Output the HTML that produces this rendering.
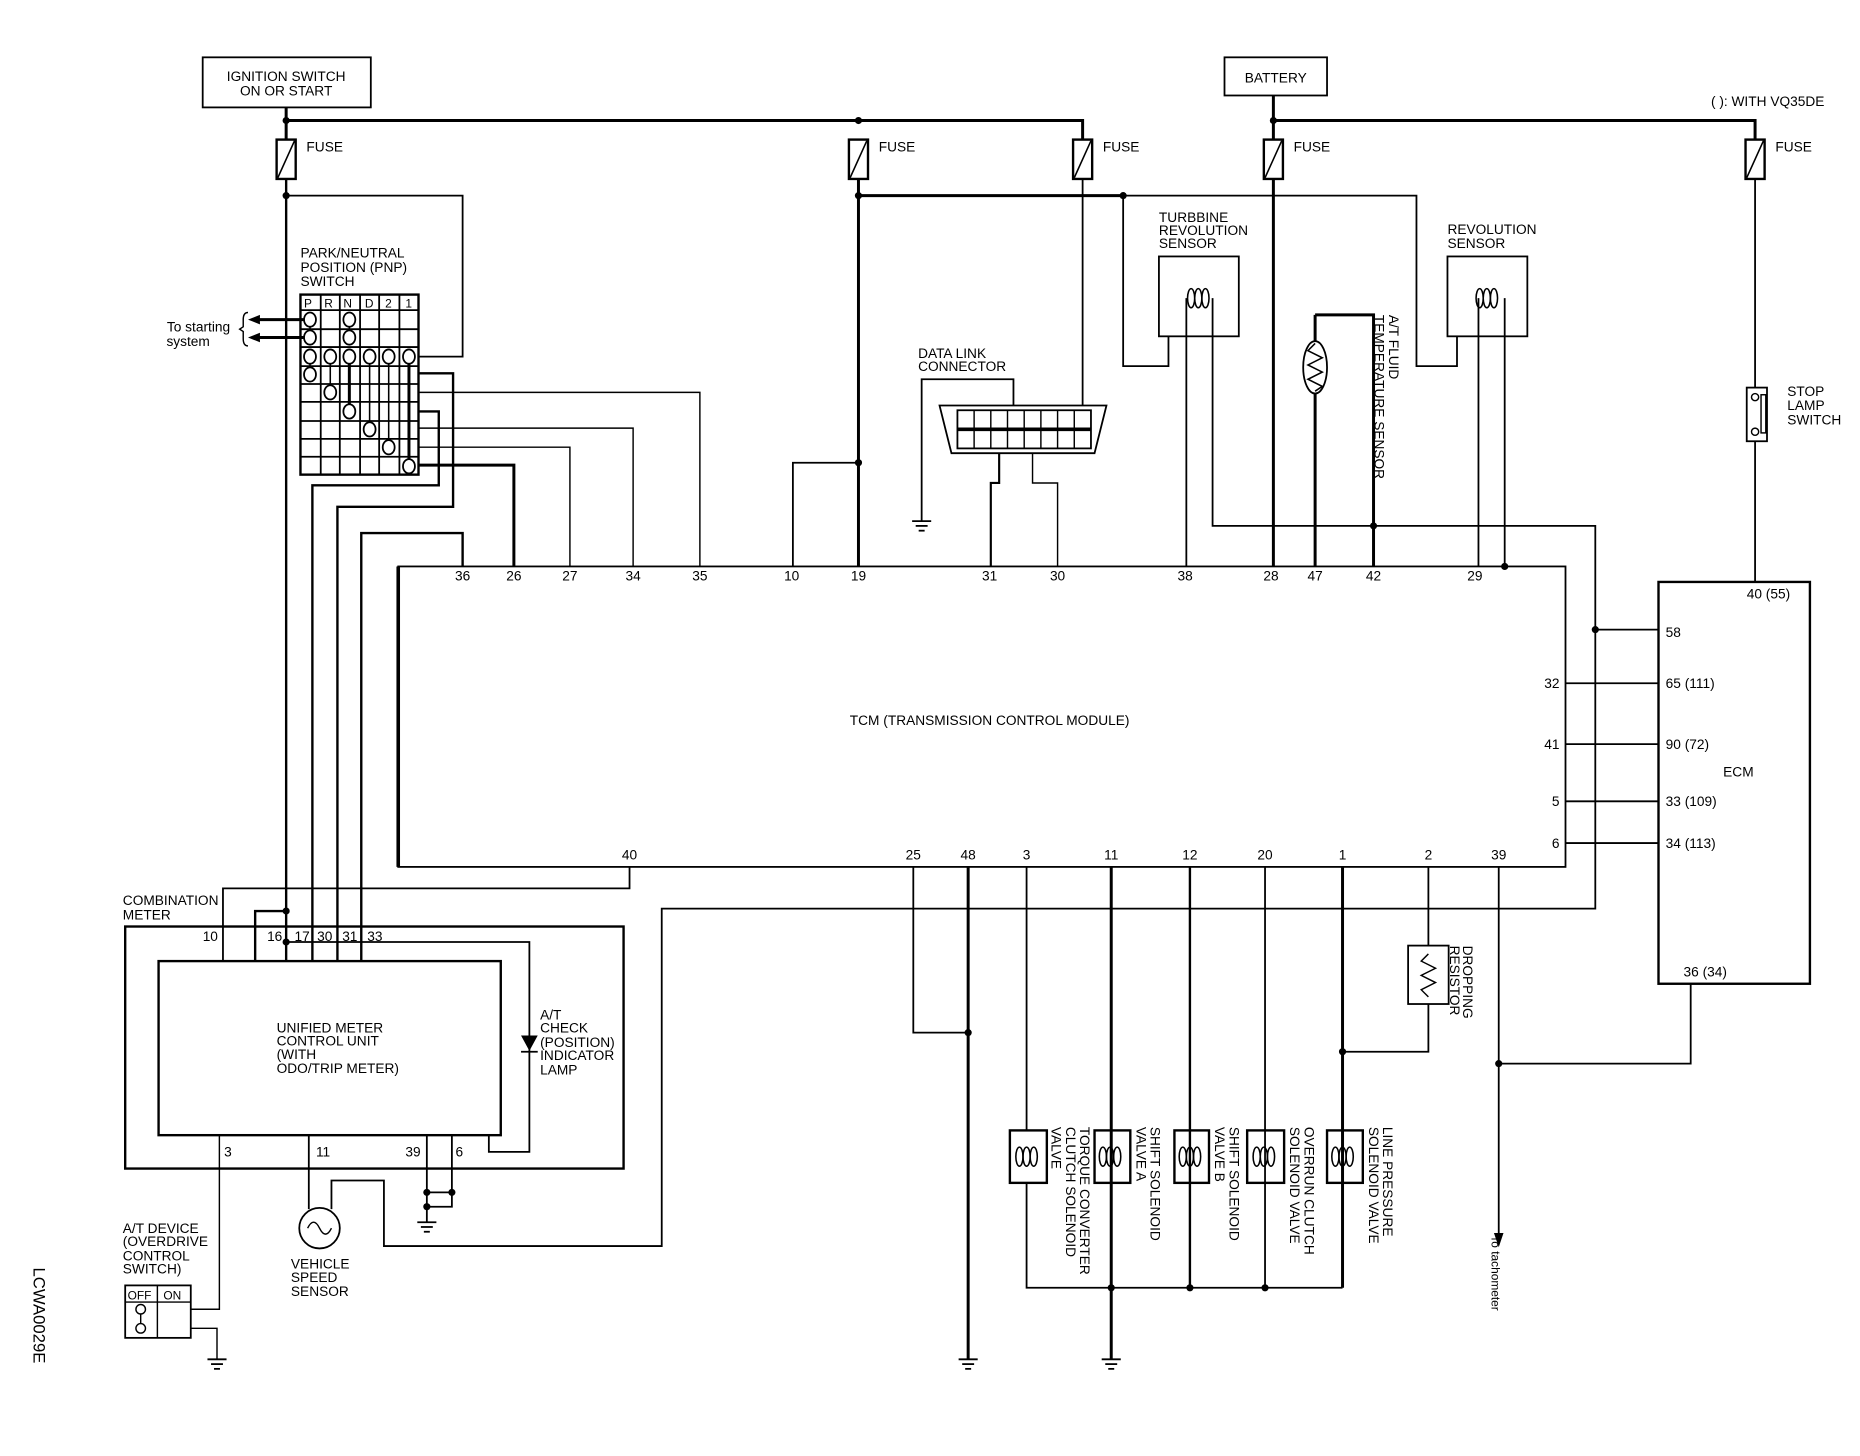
<!DOCTYPE html>
<html><head><meta charset="utf-8"><style>
html,body{margin:0;padding:0;background:#fff}
svg{display:block}
text{font-family:"Liberation Sans",Arial,sans-serif;font-size:11.5px;fill:#000}
</style></head><body>
<svg width="1860" height="1456" viewBox="0 0 1560 1221" xmlns="http://www.w3.org/2000/svg">
<defs>
<g id="fuse"><rect x="-8" y="0" width="16" height="33" fill="#fff" stroke="#000" stroke-width="2"/><line x1="-7" y1="32" x2="7" y2="1" stroke="#000" stroke-width="1.3"/></g>
<g id="gnd" stroke="#000" stroke-width="1.5"><line x1="-8" y1="0" x2="8" y2="0"/><line x1="-5" y1="4" x2="5" y2="4"/><line x1="-2.5" y1="8" x2="2.5" y2="8"/></g>
<g id="coil" fill="none" stroke="#000" stroke-width="1.3"><ellipse cx="-5" cy="0" rx="3" ry="8"/><ellipse cx="1" cy="0" rx="3" ry="8"/><ellipse cx="7" cy="0" rx="3" ry="8"/></g>
</defs>
<g fill="none" stroke="#000" stroke-width="1.2">
<rect x="170" y="48" width="141" height="42" stroke-width="1.5"/>
<rect x="1027" y="48" width="86" height="32" stroke-width="1.5"/>
<path d="M240 90V117M240 101H908V117" stroke-width="2.5"/>
<path d="M1068 80V117M1068 101H1472V117" stroke-width="2.5"/>
<path d="M240 150V806" stroke-width="2"/>
<path d="M240 164H388V299H351" stroke-width="1.5"/>
<path d="M720 150V475" stroke-width="2.5"/>
<path d="M720 164H942" stroke-width="2.5"/>
<path d="M942 164H1188V307H1222V282" stroke-width="1.5"/>
<path d="M942 164V307H980V282" stroke-width="1.5"/>
<path d="M720 388H665V475" stroke-width="1.5"/>
<path d="M908 150V340" stroke-width="1.5"/>
<path d="M773 437V318H850V340" stroke-width="1.5"/>
<polygon points="788,340 928,340 918,380 798,380" stroke-width="1.5"/>
<rect x="803" y="344" width="112" height="32" stroke-width="1.5"/>
<line x1="803" y1="360" x2="915" y2="360" stroke-width="3"/>
<path d="M817 344V376M831 344V376M845 344V376M859 344V376M873 344V376M887 344V376M901 344V376"/>
<path d="M838 380V405H831V475" stroke-width="1.8"/>
<path d="M866 380V405H887V475" stroke-width="1.2"/>
<rect x="972" y="215" width="67" height="67" stroke-width="1.5"/>
<path d="M995 250V475" stroke-width="1.5"/>
<path d="M1017 250V441H1338V762H555V1045H322V990H278V1014" stroke-width="1.5"/>
<rect x="1214" y="215" width="67" height="67" stroke-width="1.5"/>
<path d="M1240 250V475M1262 250V475" stroke-width="1.5"/>
<path d="M1103 264V475M1103 264H1152V475" stroke-width="2.5"/>
<ellipse cx="1103" cy="308" rx="10" ry="22" fill="#fff" stroke-width="1.5"/>
<path d="M1103 288L1097 294L1109 300L1097 306L1109 312L1097 318L1109 324L1103 328" stroke-width="1.3"/>
<path d="M1068 150V475" stroke-width="2.5"/>
<path d="M1472 150V325M1472 370V488" stroke-width="1.5"/>
<rect x="1465" y="325" width="17" height="45" stroke-width="1.5"/>
<circle cx="1472" cy="333" r="3"/><circle cx="1472" cy="362" r="3"/>
<rect x="1477" y="331" width="4" height="32"/>
<rect x="1391" y="488" width="127" height="337" stroke-width="2"/>
<rect x="334" y="475" width="979" height="252" stroke-width="1.5"/>
<path d="M334 475V727" stroke-width="3"/>
<path d="M1313 573H1391M1313 624H1391M1313 672H1391M1313 707H1391M1338 528H1391" stroke-width="1.5"/>
<rect x="252" y="247" width="99" height="151" stroke-width="2"/>
<path d="M269 247V398M285 247V398M302 247V398M318 247V398M335 247V398" stroke-width="1.5"/>
<path d="M252 260H351M252 276H351M252 291H351M252 307H351M252 322H351M252 337H351M252 353H351M252 368H351M252 383H351" stroke-width="1.5"/>
<path d="M260 268V283M293 268V283M260 299V314M277 299V329M310 299V360M326 299V375" stroke-width="1.3"/>
<path d="M293 299V345M343 299V391" stroke-width="2.5"/>
<g fill="#fff" stroke-width="1.5">
<ellipse cx="260" cy="268" rx="5" ry="6"/><ellipse cx="293" cy="268" rx="5" ry="6"/>
<ellipse cx="260" cy="283" rx="5" ry="6"/><ellipse cx="293" cy="283" rx="5" ry="6"/>
<ellipse cx="260" cy="299" rx="5" ry="6"/><ellipse cx="277" cy="299" rx="5" ry="6"/><ellipse cx="293" cy="299" rx="5" ry="6"/><ellipse cx="310" cy="299" rx="5" ry="6"/><ellipse cx="326" cy="299" rx="5" ry="6"/><ellipse cx="343" cy="299" rx="5" ry="6"/>
<ellipse cx="260" cy="314" rx="5" ry="6"/><ellipse cx="277" cy="329" rx="5" ry="6"/><ellipse cx="293" cy="345" rx="5" ry="6"/><ellipse cx="310" cy="360" rx="5" ry="6"/><ellipse cx="326" cy="375" rx="5" ry="6"/><ellipse cx="343" cy="391" rx="5" ry="6"/>
</g>
<path d="M255 268H216M255 283H216" stroke-width="2.5"/>
<path d="M208 262Q204 262 204 268V274L201 276L204 278V284Q204 290 208 290" stroke-width="1.2"/>
<path d="M351 313H380V425H283V806" stroke-width="2"/>
<path d="M351 329H587V475" stroke-width="1.2"/>
<path d="M351 345H368V407H262V806" stroke-width="2"/>
<path d="M351 359H531V475" stroke-width="1.2"/>
<path d="M351 375H478V475" stroke-width="1.2"/>
<path d="M351 390H431V475" stroke-width="2.5"/>
<path d="M388 475V447H303V806" stroke-width="2"/>
<path d="M528 727V745H187V806" stroke-width="1.5"/>
<rect x="105" y="777" width="418" height="203" stroke-width="2"/>
<rect x="133" y="806" width="287" height="146" stroke-width="2"/>
<path d="M214 806V764H240" stroke-width="2"/>
<path d="M240 790H444V966H410V952" stroke-width="1.5"/>
<polygon points="438,869 450,869 444,880" fill="#000"/>
<line x1="437" y1="882" x2="451" y2="882" stroke-width="1.5"/>
<path d="M184 952V1098H160" stroke-width="1.2"/>
<path d="M259 952V1014" stroke-width="1.5"/>
<path d="M358 952V1025M379 952V1012H358M358 1000H379" stroke-width="1.5"/>
<circle cx="268" cy="1030" r="17" stroke-width="1.5"/>
<path d="M258 1030Q263 1020 268 1030T278 1030" stroke-width="1.2"/>
<rect x="105" y="1078" width="55" height="44" stroke-width="1.5"/>
<path d="M105 1092H160M132 1078V1122"/>
<circle cx="118" cy="1098" r="4"/><circle cx="118" cy="1114" r="4"/>
<path d="M118 1102V1110"/>
<path d="M160 1114H182V1140"/>
<path d="M766 727V866H812" stroke-width="1.5"/>
<path d="M812 727V1140" stroke-width="2.5"/>
<path d="M861 727V948M861 992V1080H1126" stroke-width="1.5"/>
<path d="M932 727V1140" stroke-width="2.5"/>
<path d="M998 727V1080" stroke-width="2"/>
<path d="M1061 727V1080" stroke-width="1.5"/>
<path d="M1126 727V1080" stroke-width="2.5"/>
<path d="M1126 882H1198V842M1198 793V727" stroke-width="1.5"/>
<rect x="1181" y="793" width="34" height="49" stroke-width="1.5"/>
<path d="M1198 800L1192 806L1204 812L1192 818L1204 824L1192 830L1198 836" stroke-width="1.2"/>
<path d="M1257 727V1036" stroke-width="1.5"/>
<path d="M1257 892H1418V825" stroke-width="1.5"/>
<g stroke-width="2"><rect x="847" y="948" width="31" height="44"/><rect x="918" y="948" width="30" height="44"/><rect x="985" y="948" width="29" height="44"/><rect x="1046" y="948" width="31" height="44"/><rect x="1113" y="948" width="30" height="44"/></g>
</g>
<polygon points="1253,1034 1261,1034 1257,1046" fill="#000"/>
<polygon points="208,268 218,264 218,272" fill="#000"/>
<polygon points="208,283 218,279 218,287" fill="#000"/>
<use href="#coil" x="1004" y="250"/><use href="#coil" x="1246" y="250"/>
<use href="#coil" x="860" y="970"/><use href="#coil" x="930" y="970"/><use href="#coil" x="997" y="970"/><use href="#coil" x="1059" y="970"/><use href="#coil" x="1125" y="970"/>
<use href="#fuse" x="240" y="117"/><use href="#fuse" x="720" y="117"/><use href="#fuse" x="908" y="117"/><use href="#fuse" x="1068" y="117"/><use href="#fuse" x="1472" y="117"/>
<use href="#gnd" x="773" y="437"/><use href="#gnd" x="358" y="1025"/><use href="#gnd" x="182" y="1140"/><use href="#gnd" x="812" y="1140"/><use href="#gnd" x="932" y="1140"/>
<g fill="#000">
<circle cx="240" cy="101" r="3"/><circle cx="720" cy="101" r="3"/><circle cx="1068" cy="101" r="3"/><circle cx="240" cy="164" r="3"/><circle cx="720" cy="164" r="3"/><circle cx="942" cy="164" r="3"/><circle cx="720" cy="388" r="3"/><circle cx="1152" cy="441" r="3"/><circle cx="1262" cy="475" r="3"/><circle cx="1338" cy="528" r="3"/><circle cx="240" cy="764" r="3"/><circle cx="240" cy="790" r="3"/><circle cx="358" cy="1000" r="3"/><circle cx="379" cy="1000" r="3"/><circle cx="358" cy="1012" r="3"/><circle cx="812" cy="866" r="3"/><circle cx="932" cy="1080" r="3"/><circle cx="998" cy="1080" r="3"/><circle cx="1061" cy="1080" r="3"/><circle cx="1126" cy="882" r="3"/><circle cx="1257" cy="892" r="3"/>
</g>
<g text-anchor="middle"><text x="240" y="68">IGNITION SWITCH</text><text x="240" y="80">ON OR START</text><text x="1070" y="69">BATTERY</text></g>
<text x="1435" y="89">( ): WITH VQ35DE</text>
<text x="257" y="127">FUSE</text><text x="737" y="127">FUSE</text><text x="925" y="127">FUSE</text><text x="1085" y="127">FUSE</text><text x="1489" y="127">FUSE</text>
<text x="252" y="216">PARK/NEUTRAL</text><text x="252" y="228">POSITION (PNP)</text><text x="252" y="240">SWITCH</text>
<g><text x="255" y="258" style="font-size:10px">P</text><text x="272" y="258" style="font-size:10px">R</text><text x="288" y="258" style="font-size:10px">N</text><text x="306" y="258" style="font-size:10px">D</text><text x="323" y="258" style="font-size:10px">2</text><text x="340" y="258" style="font-size:10px">1</text></g>
<g text-anchor="end"><text x="193" y="278">To starting</text><text x="176" y="290">system</text></g>
<text x="972" y="186">TURBBINE</text><text x="972" y="197">REVOLUTION</text><text x="972" y="208">SENSOR</text>
<text x="1214" y="196">REVOLUTION</text><text x="1214" y="208">SENSOR</text>
<text x="770" y="300">DATA LINK</text><text x="770" y="311">CONNECTOR</text>
<text x="1499" y="332">STOP</text><text x="1499" y="344">LAMP</text><text x="1499" y="356">SWITCH</text>
<g text-anchor="middle">
<text x="388" y="487">36</text><text x="431" y="487">26</text><text x="478" y="487">27</text><text x="531" y="487">34</text><text x="587" y="487">35</text><text x="664" y="487">10</text><text x="720" y="487">19</text><text x="830" y="487">31</text><text x="887" y="487">30</text><text x="994" y="487">38</text><text x="1066" y="487">28</text><text x="1103" y="487">47</text><text x="1152" y="487">42</text><text x="1237" y="487">29</text>
<text x="528" y="721">40</text><text x="766" y="721">25</text><text x="812" y="721">48</text><text x="861" y="721">3</text><text x="932" y="721">11</text><text x="998" y="721">12</text><text x="1061" y="721">20</text><text x="1126" y="721">1</text><text x="1198" y="721">2</text><text x="1257" y="721">39</text>
<text x="830" y="608">TCM (TRANSMISSION CONTROL MODULE)</text>
<text x="1458" y="651">ECM</text>
</g>
<g text-anchor="end"><text x="1308" y="577">32</text><text x="1308" y="628">41</text><text x="1308" y="676">5</text><text x="1308" y="711">6</text></g>
<text x="1397" y="534">58</text><text x="1397" y="577">65 (111)</text><text x="1397" y="628">90 (72)</text><text x="1397" y="676">33 (109)</text><text x="1397" y="711">34 (113)</text>
<text x="1465" y="502">40 (55)</text><text x="1412" y="819">36 (34)</text>
<text x="103" y="759">COMBINATION</text><text x="103" y="771">METER</text>
<text x="170" y="789">10</text><text x="224" y="789">16</text><text x="247" y="789">17</text><text x="266" y="789">30</text><text x="287" y="789">31</text><text x="308" y="789">33</text>
<text x="232" y="866">UNIFIED METER</text><text x="232" y="877">CONTROL UNIT</text><text x="232" y="888">(WITH</text><text x="232" y="900">ODO/TRIP METER)</text>
<text x="453" y="855">A/T</text><text x="453" y="866">CHECK</text><text x="453" y="878">(POSITION)</text><text x="453" y="889">INDICATOR</text><text x="453" y="901">LAMP</text>
<text x="188" y="970">3</text><text x="265" y="970">11</text><text x="340" y="970">39</text><text x="382" y="970">6</text>
<text x="244" y="1064">VEHICLE</text><text x="244" y="1075">SPEED</text><text x="244" y="1087">SENSOR</text>
<text x="103" y="1034">A/T DEVICE</text><text x="103" y="1045">(OVERDRIVE</text><text x="103" y="1057">CONTROL</text><text x="103" y="1068">SWITCH)</text>
<text x="107" y="1090" style="font-size:10px">OFF</text><text x="137" y="1090" style="font-size:10px">ON</text>
<g>
<text transform="translate(1165,264) rotate(90)">A/T FLUID</text>
<text transform="translate(1153,264) rotate(90)">TEMPERATURE SENSOR</text>
<text transform="translate(1227,793) rotate(90)">DROPPING</text>
<text transform="translate(1216,793) rotate(90)">RESISTOR</text>
<text transform="translate(906,945) rotate(90)">TORQUE CONVERTER</text>
<text transform="translate(894,945) rotate(90)">CLUTCH SOLENOID</text>
<text transform="translate(882,945) rotate(90)">VALVE</text>
<text transform="translate(965,945) rotate(90)">SHIFT SOLENOID</text>
<text transform="translate(953,945) rotate(90)">VALVE A</text>
<text transform="translate(1031,945) rotate(90)">SHIFT SOLENOID</text>
<text transform="translate(1019,945) rotate(90)">VALVE B</text>
<text transform="translate(1094,945) rotate(90)">OVERRUN CLUTCH</text>
<text transform="translate(1082,945) rotate(90)">SOLENOID VALVE</text>
<text transform="translate(1160,945) rotate(90)">LINE PRESSURE</text>
<text transform="translate(1148,945) rotate(90)">SOLENOID VALVE</text>
<text transform="translate(1251,1036) rotate(90)" style="font-size:10px">To tachometer</text>
<text transform="translate(28,1063) rotate(90)" style="font-size:14px">LCWA0029E</text>
</g>
</svg>
</body></html>
